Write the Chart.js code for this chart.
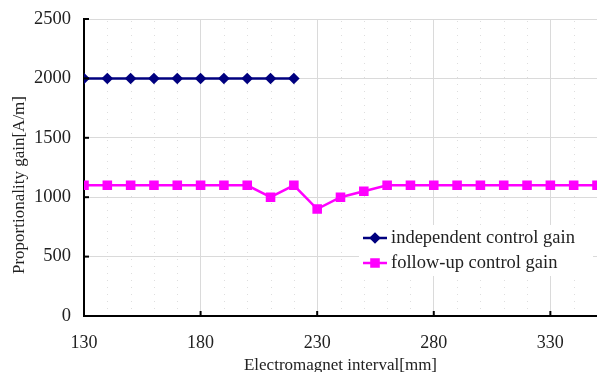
<!DOCTYPE html>
<html>
<head>
<meta charset="utf-8">
<script src="https://cdn.jsdelivr.net/npm/chart.js@4/dist/chart.umd.min.js"></script>
<style>
  html, body { margin: 0; padding: 0; background: #fff; }
  #wrap { width: 597px; height: 372px; }
</style>
</head>
<body>
<div id="wrap"><canvas id="gainChart" width="597" height="372"></canvas></div>
<script>
// Data
const intervals = [130, 140, 150, 160, 170, 180, 190, 200, 210, 220, 230, 240, 250, 260, 270, 280, 290, 300, 310, 320, 330, 340, 350];
const independentGain = [2000, 2000, 2000, 2000, 2000, 2000, 2000, 2000, 2000, 2000];
const followUpGain = [1100, 1100, 1100, 1100, 1100, 1100, 1100, 1100, 1000, 1100, 900, 1000, 1050, 1100, 1100, 1100, 1100, 1100, 1100, 1100, 1100, 1100, 1100];
const xTicks = [130, 180, 230, 280, 330];
const yTicks = [0, 500, 1000, 1500, 2000, 2500];
const seriesNames = ['independent control gain', 'follow-up control gain'];
const yTitle = 'Proportionality gain[A/m]';

const serif = "'Liberation Serif', 'Times New Roman', serif";
const blue = '#00007f';
const pink = '#ff00ff';

function toPoints(values) {
    return values.map((v, i) => ({ x: intervals[i], y: v }));
}

// faint dotted minor grid, inward tick marks, y title and the legend box inside the plot
const extras = {
    id: 'extras',
    beforeDatasetsDraw(chart) {
        const ctx = chart.ctx;
        const area = chart.chartArea;
        const xs = chart.scales.x;
        ctx.save();
        ctx.strokeStyle = 'rgba(0,0,0,0.13)';
        ctx.lineWidth = 1;
        ctx.setLineDash([1, 6]);
        for (let v = 140; v < 350; v += 10) {
            if ((v - 130) % 50 === 0) continue;
            const px = Math.round(xs.getPixelForValue(v)) + 0.5;
            ctx.beginPath();
            ctx.moveTo(px, area.bottom);
            ctx.lineTo(px, area.top);
            ctx.stroke();
        }
        ctx.restore();
    },
    afterDraw(chart) {
        const ctx = chart.ctx;
        const area = chart.chartArea;
        const xs = chart.scales.x;
        const ys = chart.scales.y;
        ctx.save();
        ctx.strokeStyle = '#000';
        ctx.lineWidth = 2;
        xTicks.slice(1).forEach(v => {
            const px = xs.getPixelForValue(v);
            ctx.beginPath();
            ctx.moveTo(px, area.bottom);
            ctx.lineTo(px, area.bottom - 5);
            ctx.stroke();
        });
        yTicks.slice(1).forEach(v => {
            const py = ys.getPixelForValue(v);
            ctx.beginPath();
            ctx.moveTo(area.left, py);
            ctx.lineTo(area.left + 5, py);
            ctx.stroke();
        });

        // y axis title, placed a bit below the plot middle like the original
        ctx.save();
        ctx.translate(20, 185);
        ctx.rotate(-Math.PI / 2);
        ctx.font = '17px ' + serif;
        ctx.fillStyle = '#222';
        ctx.textAlign = 'center';
        ctx.textBaseline = 'middle';
        ctx.fillText(yTitle, 0, 0);
        ctx.restore();

        // legend
        const lx = 363, ly = 238, gap = 25;
        ctx.font = '18.5px ' + serif;
        ctx.textBaseline = 'middle';
        ctx.fillStyle = '#fff';
        ctx.fillRect(lx - 4, ly - 13, 234, gap + 26);
        [[blue, 'rectRot', 4], [pink, 'rect', 5]].forEach((s, i) => {
            const y = ly + i * gap;
            ctx.strokeStyle = s[0];
            ctx.lineWidth = 2.5;
            ctx.beginPath();
            ctx.moveTo(lx, y);
            ctx.lineTo(lx + 24, y);
            ctx.stroke();
            Chart.helpers.drawPoint(ctx, { pointStyle: s[1], radius: s[2], borderWidth: 1 }, lx + 12, y);
            ctx.fillStyle = s[0];
            ctx.fill();
            ctx.fillStyle = '#222';
            ctx.fillText(seriesNames[i], lx + 28, y);
        });
        ctx.restore();
    }
};

new Chart(document.getElementById('gainChart').getContext('2d'), {
    type: 'line',
    data: {
        datasets: [
            {
                label: seriesNames[0],
                data: toPoints(independentGain),
                borderColor: blue,
                backgroundColor: blue,
                borderWidth: 2.5,
                pointStyle: 'rectRot',
                pointRadius: 4,
                tension: 0
            },
            {
                label: seriesNames[1],
                data: toPoints(followUpGain),
                borderColor: pink,
                backgroundColor: pink,
                borderWidth: 2.5,
                pointStyle: 'rect',
                pointRadius: 5,
                tension: 0
            }
        ]
    },
    options: {
        responsive: false,
        animation: false,
        events: [],
        layout: { autoPadding: false, padding: { top: 19, right: 0, left: 0, bottom: 0 } },
        plugins: { legend: { display: false }, tooltip: { enabled: false } },
        scales: {
            x: {
                type: 'linear',
                min: 130,
                max: 350,
                afterBuildTicks: scale => { scale.ticks = xTicks.map(v => ({ value: v })); },
                afterFit: scale => { scale.height = 56; scale.paddingLeft = 0; scale.paddingRight = 0; },
                grid: { color: '#dadada', drawTicks: false, lineWidth: 1 },
                border: { color: '#000', width: 2 },
                ticks: { color: '#222', padding: 16, maxRotation: 0, font: { family: serif, size: 18 } },
                title: {
                    display: true,
                    text: 'Electromagnet interval[mm]',
                    color: '#222',
                    padding: { top: 0, bottom: -4 },
                    font: { family: serif, size: 17 }
                }
            },
            y: {
                min: 0,
                max: 2500,
                afterBuildTicks: scale => { scale.ticks = yTicks.map(v => ({ value: v })); },
                afterFit: scale => { scale.width = 84; scale.paddingTop = 0; scale.paddingBottom = 0; },
                grid: { color: '#dadada', drawTicks: false, lineWidth: 1 },
                border: { color: '#000', width: 2 },
                ticks: {
                    color: '#222',
                    padding: 13,
                    font: { family: serif, size: 18.5 },
                    callback: v => String(v)
                }
            }
        }
    },
    plugins: [extras]
});
</script>
</body>
</html>
